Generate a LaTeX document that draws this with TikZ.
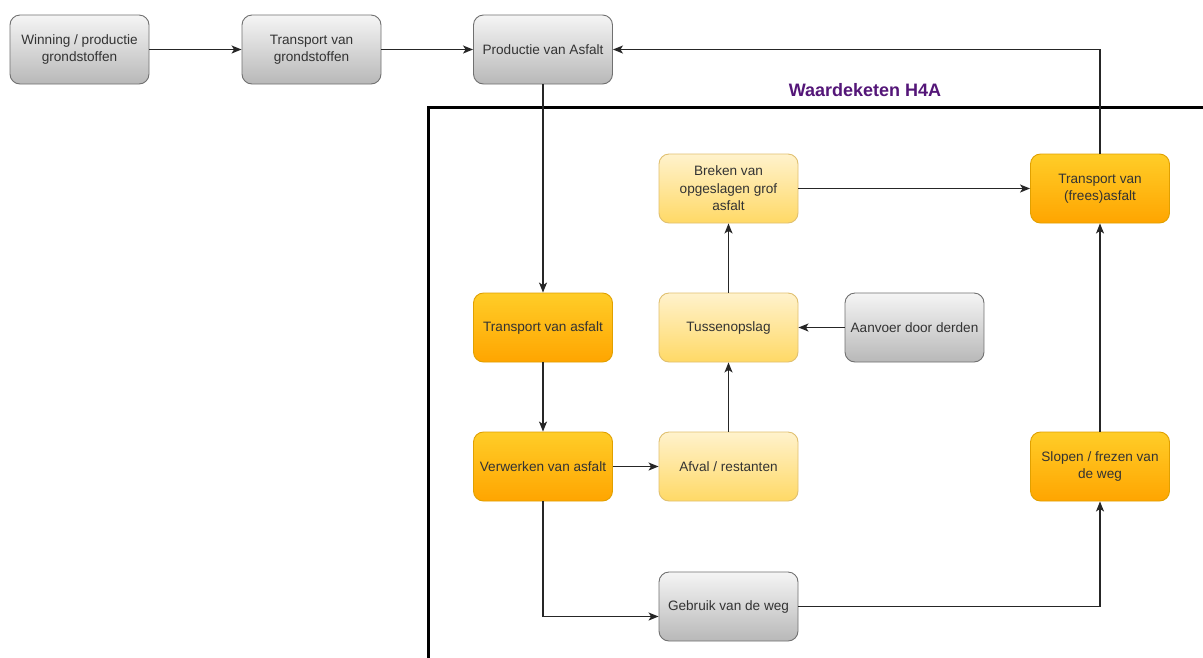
\documentclass[tikz,border=0pt]{standalone}
\usepackage{fontspec}
\setmainfont{Liberation Sans}
\usetikzlibrary{arrows.meta}
\definecolor{grayT}{HTML}{F5F5F5}
\definecolor{grayB}{HTML}{B8B8B8}
\definecolor{grayS}{HTML}{707070}
\definecolor{orT}{HTML}{FFCD28}
\definecolor{orB}{HTML}{FFA500}
\definecolor{orS}{HTML}{E0A000}
\definecolor{yeT}{HTML}{FFF2CC}
\definecolor{yeB}{HTML}{FFD966}
\definecolor{yeS}{HTML}{E0C070}
\definecolor{txt}{HTML}{333333}
\definecolor{ttl}{RGB}{84,22,120}
\tikzset{
  box/.style={rounded corners=10pt, minimum width=139pt, minimum height=69pt,
    align=center, line width=0.9pt, text=txt, inner sep=2pt,
    font=\fontsize{13.6}{17.5}\selectfont, shading=axis},
  graybox/.style={box, draw=grayS, top color=grayT, bottom color=grayB},
  orbox/.style={box, draw=orS, top color=orT, bottom color=orB},
  yebox/.style={box, draw=yeS, top color=yeT, bottom color=yeB},
  conn/.style={draw=black!85, line width=1.2pt, -{Stealth[length=10pt,width=8pt,inset=2.5pt]}},
  frame/.style={line width=3pt}
}
\begin{document}
\begin{tikzpicture}[x=1pt,y=-1pt]
\useasboundingbox (0,0) rectangle (1203,657);
\fill[white] (0,0) rectangle (1203,657);
\draw[frame] (428,660) -- (428,107) -- (1206,107);
\node[font=\bfseries\fontsize{18}{21}\selectfont, text=ttl] (title) at (865,90) {Waardeketen H4A};

\node[graybox] (w)  at (79.5,49.5) {Winning / productie\\grondstoffen};
\node[graybox] (tg) at (311.5,49.5) {Transport van\\grondstoffen};
\node[graybox] (pa) at (543,49.5) {Productie van Asfalt};

\node[yebox] (br) at (728.5,188.5) {Breken van\\opgeslagen grof\\asfalt};
\node[orbox] (tf) at (1100,188.5) {Transport van\\(frees)asfalt};
\node[orbox] (ta) at (543,327.5) {Transport van asfalt};
\node[yebox] (to) at (728.5,327.5) {Tussenopslag};
\node[graybox] (ad) at (914.5,327.5) {Aanvoer door derden};
\node[orbox] (va) at (543,466.5) {Verwerken van asfalt};
\node[yebox] (af) at (728.5,466.5) {Afval / restanten};
\node[orbox] (sl) at (1100,466.5) {Slopen / frezen van\\de weg};
\node[graybox] (gw) at (728.5,606.5) {Gebruik van de weg};

\draw[conn] (w) -- (tg);
\draw[conn] (tg) -- (pa);
\draw[conn] (pa) -- (ta);
\draw[conn] (ta) -- (va);
\draw[conn] (va) -- (af);
\draw[conn] (af) -- (to);
\draw[conn] (ad) -- (to);
\draw[conn] (to) -- (br);
\draw[conn] (br) -- (tf);
\draw[conn] (tf.north) |- (pa.east);
\draw[conn] (va.south) |- ([yshift=-10pt]gw.west);
\draw[conn] (gw.east) -| (sl.south);
\draw[conn] (sl) -- (tf);
\end{tikzpicture}
\end{document}
